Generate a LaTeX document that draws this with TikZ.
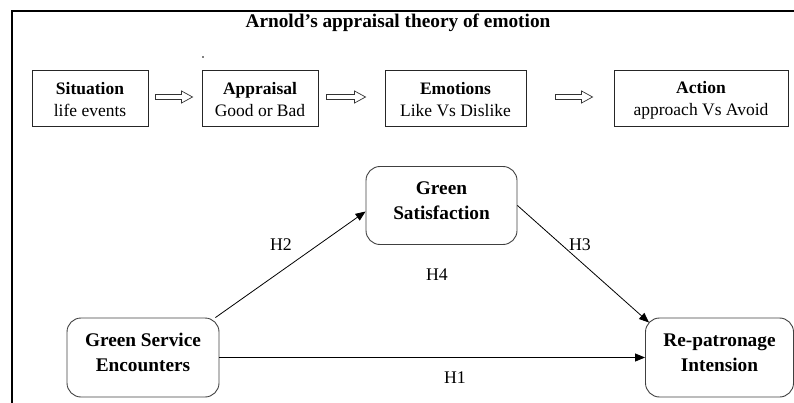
\documentclass[tikz,border=0pt]{standalone}
\usepackage{fontspec}
\setmainfont{Liberation Serif}
\usetikzlibrary{arrows.meta,calc}
\begin{document}
\begin{tikzpicture}[x=1pt,y=-1pt,
  topbox/.style={draw=black!85,line width=0.9pt,minimum height=56pt,inner sep=0pt},
  toptext/.style={align=center,inner sep=0pt,font=\fontsize{17.5}{22}\selectfont},
  botbox/.style={draw=black!75,line width=0.9pt,rounded corners=14pt,inner sep=0pt},
  bottext/.style={align=center,inner sep=0pt,font=\bfseries\fontsize{19.3}{25}\selectfont},
  hlabel/.style={font=\fontsize{17.8}{20}\selectfont,inner sep=0pt},
  arr/.style={draw=black,line width=0.8pt,-{Triangle[length=10pt,width=8pt]}},
  hollow/.style={draw=black!80,line width=0.7pt,fill=white}]
\useasboundingbox (0,0) rectangle (794,403);
% frame
\draw[line width=1.4pt] (12,403) -- (12,11) -- (794,11);
\node[font=\bfseries\fontsize{19.3}{22}\selectfont,inner sep=0pt] (title) at (398,23) {Arnold’s appraisal theory of emotion};
\fill (203,57) circle (0.9);
% top boxes
\node[topbox,minimum width=116pt] (sit) at (90,98) {};
\node[topbox,minimum width=116pt] (app) at (260,98) {};
\node[topbox,minimum width=141pt] (emo) at (455.5,98) {};
\node[topbox,minimum width=174pt] (act) at (701,98) {};
\node[toptext] (sitt) at ($(sit)+(0,2)$) {\textbf{Situation}\\life events};
\node[toptext] (appt) at ($(app)+(0,2)$) {\textbf{Appraisal}\\Good or Bad};
\node[toptext] (emot) at ($(emo)+(0,2)$) {\textbf{Emotions}\\Like Vs Dislike};
\node[toptext] (actt) at ($(act)+(0,2)$) {\textbf{Action}\\approach Vs Avoid};
% hollow arrows
\foreach \a/\b/\s/\e in {sit/app/7/9, app/emo/8/19, emo/act/29/21}{
  \coordinate (s\a) at ($(\a.east)+(\s,-1)$);
  \coordinate (e\a) at ($(\b.west)+(-\e,-1)$);
  \draw[hollow] ($(s\a)+(0,-2.5)$) -- ($(e\a)+(-11,-2.5)$) -- ($(e\a)+(-11,-6)$) -- (e\a)
     -- ($(e\a)+(-11,6)$) -- ($(e\a)+(-11,2.5)$) -- ($(s\a)+(0,2.5)$) -- cycle;
}
% bottom boxes
\node[botbox,minimum width=151pt,minimum height=78pt] (gsat) at (441.5,205.5) {};
\node[botbox,minimum width=152pt,minimum height=79pt] (gse) at (143,357.5) {};
\node[botbox,minimum width=148pt,minimum height=79pt] (rpi) at (719.5,357.5) {};
\node[bottext] (gsatt) at ($(gsat)+(0,-5)$) {Green\\Satisfaction};
\node[bottext] (gset) at ($(gse)+(0,-5)$) {Green Service\\Encounters};
\node[bottext] (rpit) at ($(rpi)+(0,-5)$) {Re-patronage\\Intension};
% connectors
\draw[arr] ($(gse.north east)+(-4,0)$) -- ($(gsat.west)+(0,6)$);
\draw[arr] (gsat.east) -- ($(rpi.north west)+(4,5)$);
\draw[arr] (gse.east) -- (rpi.west);
% labels
\node[hlabel] (h2) at (281,245) {H2};
\node[hlabel] (h3) at (580,245) {H3};
\node[hlabel] (h4) at (437,275) {H4};
\node[hlabel] (h1) at (455,378) {H1};
\end{tikzpicture}
\end{document}
